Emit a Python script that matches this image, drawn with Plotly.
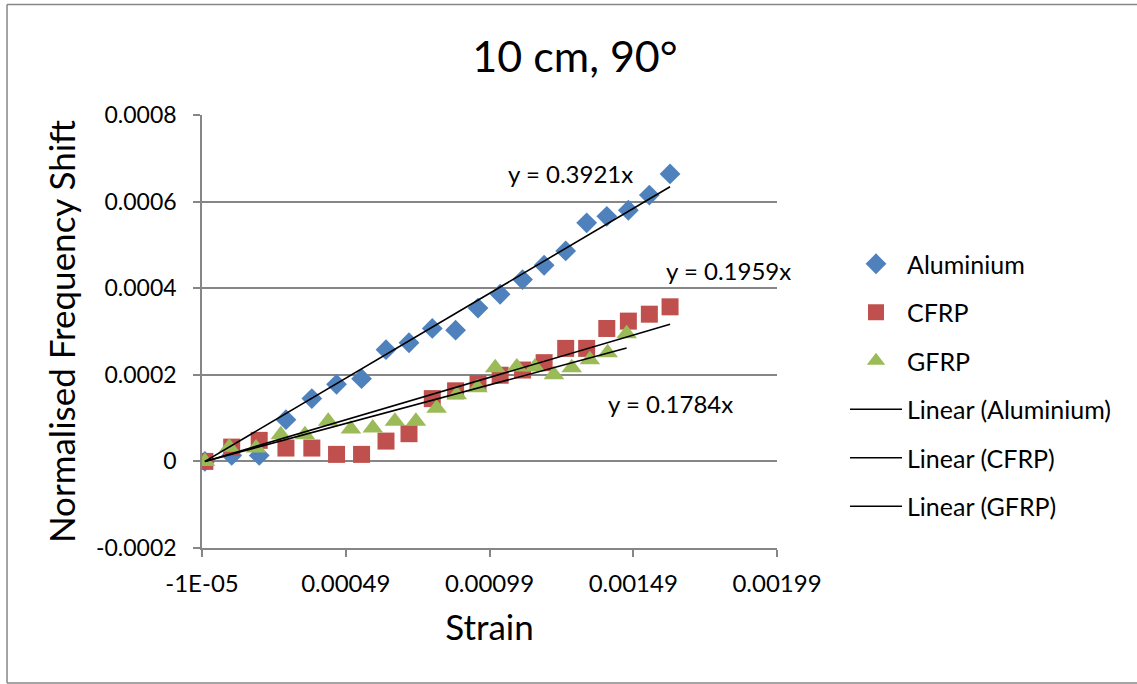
import plotly.graph_objects as go

# Strain readings and normalised frequency shift for each specimen
strain_al = [0.0, 0.0000933, 0.000189, 0.000282, 0.000372, 0.000458, 0.000545, 0.00063,
             0.00071, 0.000791, 0.000872, 0.00095, 0.001027, 0.001105, 0.00118, 0.001255,
             0.001328, 0.001398, 0.001473, 0.001546, 0.001618]
shift_al = [0.0, 0.0000139, 0.0000139, 0.0000964, 0.000145, 0.000178, 0.000191, 0.000258,
            0.000274, 0.000307, 0.000303, 0.000354, 0.000386, 0.00042, 0.000453, 0.000486,
            0.000551, 0.000566, 0.00058, 0.000615, 0.000664]

strain_cfrp = strain_al
shift_cfrp = [0.0, 0.000033, 0.0000486, 0.0000308, 0.0000308, 0.0000162, 0.0000162, 0.0000469,
              0.000064, 0.000145, 0.000163, 0.00018, 0.000199, 0.000211, 0.000228, 0.000261,
              0.000261, 0.000307, 0.000324, 0.00034, 0.000357]

strain_gfrp = [0.0, 0.000085, 0.000178, 0.000264, 0.000348, 0.000429, 0.000508, 0.000584,
               0.000661, 0.000734, 0.000806, 0.000876, 0.000948, 0.00101, 0.001085, 0.001148,
               0.001214, 0.001276, 0.001339, 0.001401, 0.001467]
shift_gfrp = [0.0, 0.0000324, 0.000031, 0.0000617, 0.0000617, 0.0000925, 0.0000749, 0.0000772,
              0.0000925, 0.0000925, 0.000123, 0.000154, 0.00017, 0.000216, 0.000218, 0.000218,
              0.0002, 0.000216, 0.000235, 0.000251, 0.000295]

# Fitted slopes (linear trendlines through the origin)
slope_al = 0.3921
slope_cfrp = 0.1959
slope_gfrp = 0.1784

x_tickvals = [-0.00001, 0.00049, 0.00099, 0.00149, 0.00199]
x_ticktext = ["-1E-05", "0.00049", "0.00099", "0.00149", "0.00199"]
y_tickvals = [-0.0002, 0.0, 0.0002, 0.0004, 0.0006, 0.0008]
y_ticktext = ["-0.0002", "0", "0.0002", "0.0004", "0.0006", "0.0008"]

FONT = "Lato, Carlito, Calibri, sans-serif"
GRID = "#868686"

fig = go.Figure()

series = [
    ("Aluminium", strain_al, shift_al, "diamond", 16, "#4F81BD"),
    ("CFRP", strain_cfrp, shift_cfrp, "square", 17, "#C0504D"),
    ("GFRP", strain_gfrp, shift_gfrp, "triangle-up", 18, "#9BBB59"),
]
for i, (name, xs, ys, sym, size, col) in enumerate(series):
    fig.add_trace(go.Scatter(
        x=xs, y=ys, mode="markers", name=name, legendgroup=f"g{i}",
        marker=dict(symbol=sym, size=size, color=col, line=dict(width=0)),
    ))

fits = [("Aluminium", strain_al, slope_al), ("CFRP", strain_cfrp, slope_cfrp),
        ("GFRP", strain_gfrp, slope_gfrp)]
for j, (name, xs, k) in enumerate(fits):
    x0, x1 = min(xs), max(xs)
    fig.add_trace(go.Scatter(
        x=[x0, x1], y=[k * x0, k * x1], mode="lines", name=f"Linear ({name})",
        legendgroup=f"g{j + 3}", line=dict(color="black", width=1.6),
    ))

# Trendline equations
eq_labels = [
    (f"y = {slope_al}x", 0.001270, 0.000664),
    (f"y = {slope_cfrp}x", 0.001820, 0.000441),
    (f"y = {slope_gfrp}x", 0.001621, 0.000134),
]
for text, ax, ay in eq_labels:
    fig.add_annotation(x=ax, y=ay, text=text, showarrow=False,
                       font=dict(family=FONT, size=24, color="black"))

# Outer chart frame (left, top and bottom edges; the right edge lies off-canvas)
frame_left, frame_right = -0.3391, 1.75
frame_bottom, frame_top = -0.3118, 1.2552
for (fx0, fy0, fx1, fy1) in [
    (frame_left, frame_bottom, frame_left, frame_top),
    (frame_left, frame_top, frame_right, frame_top),
    (frame_left, frame_bottom, frame_right, frame_bottom),
]:
    fig.add_shape(type="line", xref="paper", yref="paper",
                  x0=fx0, y0=fy0, x1=fx1, y1=fy1,
                  line=dict(color=GRID, width=1.5), layer="below")

fig.update_layout(
    width=1137, height=684,
    margin=dict(l=202, r=360, t=115, b=136),
    paper_bgcolor="white", plot_bgcolor="white",
    title=dict(text="10 cm, 90°", x=(575 - 202) / 575, xref="paper", xanchor="center",
               y=1 - 57 / 684, yref="container", yanchor="middle",
               font=dict(family=FONT, size=43, color="black")),
    font=dict(family=FONT, color="black"),
    showlegend=True,
    legend=dict(x=(845 - 202) / 575, xanchor="left", y=(548 - 241) / 433, yanchor="top",
                traceorder="grouped", tracegroupgap=13, itemwidth=52,
                font=dict(family=FONT, size=25, color="black"),
                bgcolor="rgba(0,0,0,0)"),
    xaxis=dict(range=[-0.00001, 0.00199], tickvals=x_tickvals, ticktext=x_ticktext,
               showgrid=False, zeroline=False, showline=True, linecolor=GRID, linewidth=1.5,
               ticks="outside", ticklen=7, tickcolor=GRID, tickwidth=1.5,
               ticklabelstandoff=6,
               tickfont=dict(family=FONT, size=24, color="black"),
               title=dict(text="Strain", font=dict(family=FONT, size=35, color="black"),
                          standoff=20)),
    yaxis=dict(range=[-0.0002, 0.0008], tickvals=y_tickvals, ticktext=y_ticktext,
               showgrid=True, gridcolor=GRID, gridwidth=1.5, zeroline=False,
               showline=True, linecolor=GRID, linewidth=1.5,
               ticks="outside", ticklen=7, tickcolor=GRID, tickwidth=1.5,
               ticklabelstandoff=12,
               tickfont=dict(family=FONT, size=23, color="black"),
               title=dict(text="Normalised Frequency Shift",
                          font=dict(family=FONT, size=35, color="black"), standoff=10)),
)

fig.write_html("out.html")
